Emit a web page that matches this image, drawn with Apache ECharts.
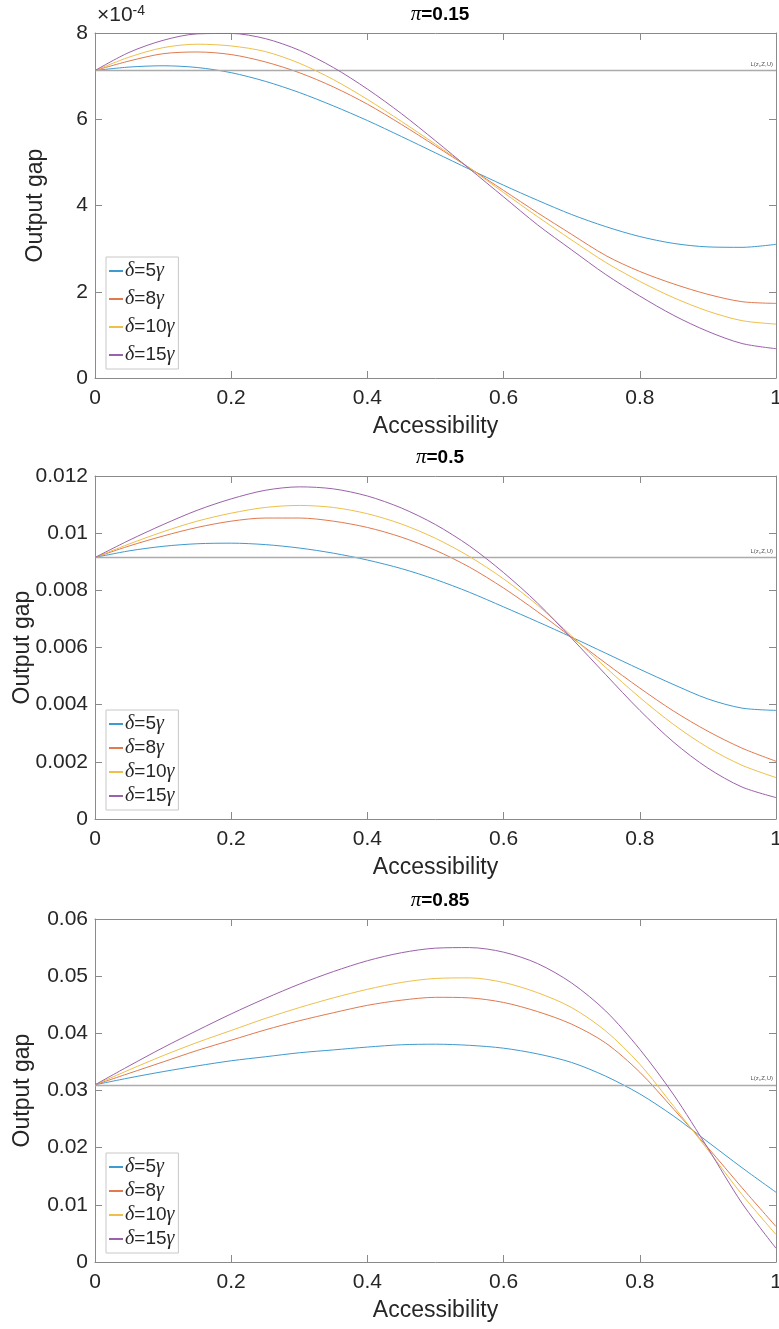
<!DOCTYPE html>
<html>
<head>
<meta charset="utf-8">
<script src="https://cdn.jsdelivr.net/npm/echarts@6/dist/echarts.min.js"></script>
<style>
html,body{margin:0;padding:0;background:#fff;}
#main{width:779px;height:1329px;}
</style>
</head>
<body>
<div id="main"></div>
<script>
// accessibility grid
var xs = [0, 0.05, 0.1, 0.15, 0.2, 0.25, 0.3, 0.35, 0.4, 0.45, 0.5, 0.55, 0.6, 0.65, 0.7, 0.75, 0.8, 0.85, 0.9, 0.95, 1];
var legendNames = ['δ=5γ', 'δ=8γ', 'δ=10γ', 'δ=15γ'];
var titles = ['0.15', '0.5', '0.85'];

// pi = 0.15 (units of 1e-4)
var p1Ref = 7.13;
var p1d5  = [7.13, 7.21, 7.24, 7.20, 7.08, 6.88, 6.62, 6.31, 5.97, 5.60, 5.22, 4.84, 4.47, 4.12, 3.79, 3.51, 3.28, 3.12, 3.04, 3.03, 3.10];
var p1d8  = [7.13, 7.35, 7.52, 7.56, 7.50, 7.33, 7.08, 6.75, 6.35, 5.88, 5.38, 4.87, 4.35, 3.83, 3.33, 2.84, 2.47, 2.18, 1.94, 1.77, 1.73];
var p1d10 = [7.13, 7.44, 7.66, 7.74, 7.70, 7.57, 7.30, 6.92, 6.46, 5.95, 5.42, 4.87, 4.30, 3.74, 3.20, 2.68, 2.24, 1.86, 1.55, 1.33, 1.25];
var p1d15 = [7.13, 7.55, 7.83, 7.98, 7.99, 7.87, 7.60, 7.20, 6.70, 6.13, 5.50, 4.85, 4.20, 3.55, 2.97, 2.40, 1.90, 1.45, 1.08, 0.80, 0.68];
var p1Ticks = [0, 2, 4, 6, 8];

// pi = 0.5
var p2Ref = 0.00915;
var p2d5  = [0.00915, 0.00938, 0.00954, 0.00963, 0.00965, 0.00960, 0.00948, 0.00930, 0.00906, 0.00876, 0.00838, 0.00793, 0.00742, 0.00690, 0.00636, 0.00580, 0.00524, 0.00470, 0.00420, 0.00388, 0.00380];
var p2d8  = [0.00915, 0.00955, 0.00990, 0.01020, 0.01042, 0.01053, 0.01053, 0.01042, 0.01020, 0.00986, 0.00940, 0.00881, 0.00808, 0.00725, 0.00635, 0.00545, 0.00458, 0.00377, 0.00307, 0.00248, 0.00202];
var p2d10 = [0.00915, 0.00962, 0.01005, 0.01042, 0.01070, 0.01090, 0.01097, 0.01090, 0.01068, 0.01032, 0.00982, 0.00918, 0.00840, 0.00748, 0.00640, 0.00530, 0.00425, 0.00330, 0.00250, 0.00188, 0.00145];
var p2d15 = [0.00915, 0.00975, 0.01030, 0.01080, 0.01120, 0.01150, 0.01162, 0.01155, 0.01130, 0.01088, 0.01030, 0.00955, 0.00862, 0.00755, 0.00632, 0.00505, 0.00380, 0.00268, 0.00178, 0.00112, 0.00075];
var p2Ticks = [0, 0.002, 0.004, 0.006, 0.008, 0.01, 0.012];

// pi = 0.85
var p3Ref = 0.031;
var p3d5  = [0.0310, 0.0322, 0.0333, 0.0343, 0.0352, 0.0359, 0.0366, 0.0371, 0.0376, 0.0380, 0.0381, 0.0379, 0.0374, 0.0364, 0.0349, 0.0325, 0.0294, 0.0255, 0.0210, 0.0165, 0.0122];
var p3d8  = [0.0310, 0.0330, 0.0350, 0.0370, 0.0388, 0.0406, 0.0422, 0.0436, 0.0449, 0.0458, 0.0463, 0.0462, 0.0454, 0.0438, 0.0416, 0.0383, 0.0332, 0.0267, 0.0200, 0.0130, 0.0062];
var p3d10 = [0.0310, 0.0336, 0.0361, 0.0384, 0.0405, 0.0426, 0.0445, 0.0462, 0.0477, 0.0489, 0.0496, 0.0497, 0.0489, 0.0471, 0.0445, 0.0404, 0.0346, 0.0272, 0.0196, 0.0118, 0.0048];
var p3d15 = [0.0310, 0.0343, 0.0375, 0.0405, 0.0434, 0.0461, 0.0486, 0.0508, 0.0527, 0.0541, 0.0549, 0.0550, 0.0542, 0.0522, 0.0488, 0.0439, 0.0372, 0.0292, 0.0199, 0.0103, 0.0024];
var p3Ticks = [0, 0.01, 0.02, 0.03, 0.04, 0.05, 0.06];

var colors = ['#3f9ad0', '#e07a4f', '#eec04a', '#9b62aa'];
var txt = '#262626';
var axisCol = '#8a8a8a';

var panels = [
	{ref: p1Ref, lines: [p1d5, p1d8, p1d10, p1d15], ticks: p1Ticks, top: 33, height: 345, legendItemGap: 8, nameGap: 48},
	{ref: p2Ref, lines: [p2d5, p2d8, p2d10, p2d15], ticks: p2Ticks, top: 476, height: 343, legendItemGap: 4, nameGap: 61},
	{ref: p3Ref, lines: [p3d5, p3d8, p3d10, p3d15], ticks: p3Ticks, top: 919, height: 343, legendItemGap: 4, nameGap: 61}
];

function pairs(arr){
	var out = [];
	for (var i = 0; i < xs.length; i++) out.push([xs[i], arr[i]]);
	return out;
}

var grid = [], xAxis = [], yAxis = [], series = [], title = [], legend = [];

// plain box side: line + inward ticks, no labels
function boxAxis(k, pos, min, max, step){
	return {
		type: 'value', gridIndex: k, min: min, max: max, interval: step, position: pos,
		nameMoveOverlap: false,
		axisLine: {show: true, onZero: false, lineStyle: {color: axisCol, width: 1}},
		axisTick: {show: true, inside: true, length: 7, lineStyle: {color: axisCol}},
		axisLabel: {show: false}, splitLine: {show: false}
	};
}

panels.forEach(function(p, k){
	var t = p.ticks;
	var step = t[1] - t[0];
	grid.push({left: 95, top: p.top, width: 681, height: p.height, containLabel: false, outerBoundsMode: 'none'});
	title.push({
		text: '{pi|π}{b|=' + titles[k] + '}',
		left: 435, top: p.top - 34, textAlign: 'center',
		textStyle: {
			rich: {
				pi: {fontFamily: 'Liberation Serif', fontStyle: 'italic', fontWeight: 'normal', fontSize: 21, color: '#000'},
				b: {fontFamily: 'Liberation Sans', fontWeight: 'bold', fontSize: 19, color: '#000'}
			}
		}
	});
	var xb = boxAxis(k, 'bottom', 0, 1, 0.2);
	xb.name = 'Accessibility';
	xb.nameLocation = 'middle';
	xb.nameGap = 37;
	xb.nameTextStyle = {fontFamily: 'Liberation Sans', fontSize: 23, color: txt};
	xb.axisLabel = {show: true, fontFamily: 'Liberation Sans', fontSize: 21, color: txt, margin: 10};
	xAxis.push(xb);
	xAxis.push(boxAxis(k, 'top', 0, 1, 0.2));

	var yl = boxAxis(k, 'left', t[0], t[t.length - 1], step);
	yl.name = 'Output gap';
	yl.nameLocation = 'middle';
	yl.nameGap = p.nameGap;
	yl.nameTextStyle = {fontFamily: 'Liberation Sans', fontSize: 23, color: txt};
	yl.axisLabel = {show: true, fontFamily: 'Liberation Sans', fontSize: 21, color: txt, margin: 7,
		formatter: function(v){ return String(+v.toFixed(4)); }};
	yAxis.push(yl);
	yAxis.push(boxAxis(k, 'right', t[0], t[t.length - 1], step));

	p.lines.forEach(function(arr, j){
		var s = {
			name: legendNames[j], type: 'line', xAxisIndex: 2 * k, yAxisIndex: 2 * k,
			data: pairs(arr), smooth: 0.3, showSymbol: false, symbol: 'none',
			lineStyle: {color: colors[j], width: 1}, itemStyle: {color: colors[j]},
			z: 3 + j, animation: false
		};
		if (j === 0) {
			s.markLine = {
				silent: true, symbol: 'none', animation: false, precision: 8,
				lineStyle: {color: '#ababab', width: 1.4, type: 'solid'},
				label: {
					show: true, position: 'insideEndTop', distance: 3,
					formatter: 'L(z{s|i},Z,U)',
					fontFamily: 'Liberation Sans', fontSize: 6, color: '#555',
					rich: {s: {fontSize: 4, verticalAlign: 'bottom', color: '#555'}}
				},
				data: [{yAxis: p.ref}]
			};
		}
		series.push(s);
	});
	legend.push({
		data: legendNames, orient: 'vertical', left: 106,
		bottom: 1329 - (p.top + p.height) + 9,
		backgroundColor: '#fff', borderColor: '#c8c8c8', borderWidth: 1, borderRadius: 0,
		padding: [4, 4, 4, 3], itemGap: p.legendItemGap,
		itemWidth: 14, itemHeight: 2, icon: 'rect', selectedMode: false,
		textStyle: {
			fontFamily: 'Liberation Sans', fontSize: 19, color: txt, padding: [0, 0, 0, -3],
			rich: {g: {fontFamily: 'Liberation Serif', fontStyle: 'italic', fontSize: 20, color: txt}}
		},
		formatter: function(name){
			return name.replace(/δ/, '{g|δ}').replace(/γ/, '{g|γ}');
		}
	});
});

var option = {
	backgroundColor: '#fff',
	animation: false,
	title: title,
	legend: legend,
	grid: grid,
	xAxis: xAxis,
	yAxis: yAxis,
	series: series,
	graphic: [{
		type: 'text', left: 97, top: 4,
		style: {
			text: '×10{e|-4}', fontFamily: 'Liberation Sans', fontSize: 21, fill: txt,
			rich: {e: {fontSize: 14, verticalAlign: 'top', fill: txt, padding: [0, 0, 8, 0]}}
		}
	}]
};

var chart = echarts.init(document.getElementById('main'));
chart.setOption(option);
window.onresize = chart.resize;
</script>
</body>
</html>
